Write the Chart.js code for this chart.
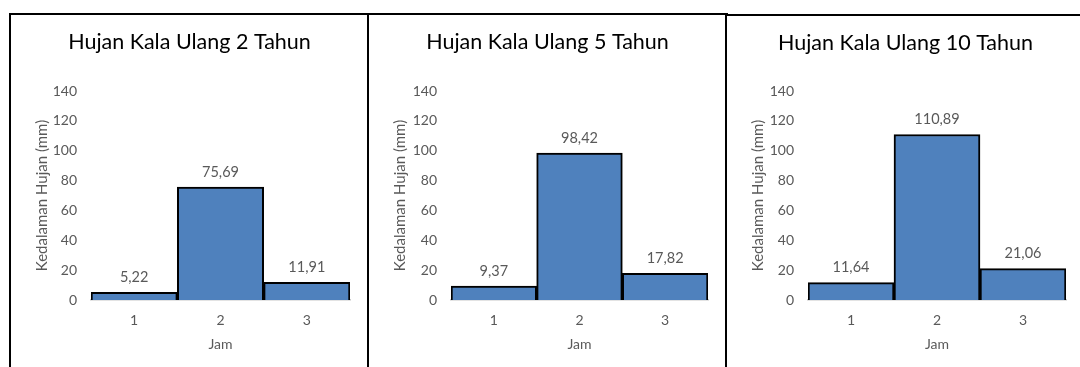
<!DOCTYPE html>
<html>
<head>
<meta charset="utf-8">
<script src="https://cdn.jsdelivr.net/npm/chart.js@4.4.1/dist/chart.umd.min.js"></script>
<style>
  html, body { margin: 0; padding: 0; background: #fff; width: 1080px; height: 367px; overflow: hidden; }
  .panel { position: absolute; border: 2px solid #000; box-sizing: border-box; background: #fff; }
  .panel canvas { display: block; }
</style>
</head>
<body>
<div class="panel" id="p1" style="left:9px; top:13px; width:361px; height:380px;"><canvas id="c1"></canvas></div>
<div class="panel" id="p2" style="left:367px; top:13px; width:361px; height:380px;"><canvas id="c2"></canvas></div>
<div class="panel" id="p3" style="left:725px; top:14px; width:361px; height:380px;"><canvas id="c3"></canvas></div>
<script>
// ---- data ----
const categories = ['1', '2', '3'];
const rain2 = [5.22, 75.69, 11.91];
const rain5 = [9.37, 98.42, 17.82];
const rain10 = [11.64, 110.89, 21.06];
const titles = ['Hujan Kala Ulang 2 Tahun', 'Hujan Kala Ulang 5 Tahun', 'Hujan Kala Ulang 10 Tahun'];
const yTitle = 'Kedalaman Hujan (mm)';
const xTitle = 'Jam';
const yMin = 0, yMax = 140, yStep = 20;

const FONT = "Lato, 'Liberation Sans', sans-serif";
Chart.defaults.font.family = FONT;
Chart.defaults.color = '#595959';

const fmt = v => v.toFixed(2).replace('.', ',');

const valueLabels = {
  id: 'valueLabels',
  afterDatasetsDraw(chart) {
    const ctx = chart.ctx;
    ctx.save();
    ctx.font = '14.5px ' + FONT;
    ctx.fillStyle = '#595959';
    ctx.textAlign = 'center';
    ctx.textBaseline = 'middle';
    chart.data.datasets.forEach((ds, di) => {
      chart.getDatasetMeta(di).data.forEach((el, i) => {
        ctx.fillText(fmt(ds.data[i]), el.x, el.y - 15);
      });
    });
    ctx.restore();
  }
};

function makeChart(id, values, title, cw, ch, left, right, top, bottom) {
  const canvas = document.getElementById(id);
  canvas.width = cw; canvas.height = ch;
  canvas.style.width = cw + 'px'; canvas.style.height = ch + 'px';
  const tSize = 21.5, tLH = tSize * 1.2;
  const side = cw - right;            // symmetric outer padding keeps the title centred
  const yTitleSize = 15, yTitleCenter = 31;
  new Chart(canvas, {
    type: 'bar',
    data: {
      labels: categories,
      datasets: [{
        data: values,
        backgroundColor: '#4f81bd',
        borderColor: '#000000',
        borderWidth: 2,
        borderSkipped: 'start',
        categoryPercentage: 1.0,
        barPercentage: 1.0
      }]
    },
    options: {
      responsive: false,
      animation: false,
      devicePixelRatio: 1,
      layout: { padding: { left: side, right: side, top: 0, bottom: 0 } },
      plugins: {
        legend: { display: false },
        tooltip: { enabled: false },
        title: {
          display: true,
          text: title,
          color: '#000000',
          font: { size: tSize, weight: 'normal', family: FONT },
          padding: { top: 27 - tLH / 2, bottom: top - (27 - tLH / 2) - tLH }
        }
      },
      scales: {
        x: {
          z: 1,
          grid: { display: false, drawTicks: false },
          border: { display: true, color: '#c8c8c8', width: 1.5 },
          ticks: { padding: 12.5, font: { size: 14 }, color: '#595959' },
          title: { display: true, text: xTitle, color: '#595959', font: { size: 14 }, padding: { top: 0, bottom: 14.5 } },
          afterFit(s) { s.height = ch - bottom; }
        },
        y: {
          min: yMin, max: yMax,
          grid: { display: false, drawTicks: false },
          border: { display: false },
          ticks: { stepSize: yStep, padding: 14, font: { size: 14 }, color: '#595959' },
          title: { display: true, text: yTitle, color: '#595959', font: { size: yTitleSize },
                   padding: { top: yTitleCenter - side - yTitleSize * 0.6, bottom: 0 } },
          afterFit(s) { s.width = left - side; }
        }
      }
    },
    plugins: [valueLabels]
  });
}

makeChart('c1', rain2, titles[0], 357, 352, 80, 339, 76, 285);
makeChart('c2', rain5, titles[1], 357, 352, 82, 339, 76, 285);
makeChart('c3', rain10, titles[2], 357, 351, 81, 339, 75, 284);
</script>
</body>
</html>
